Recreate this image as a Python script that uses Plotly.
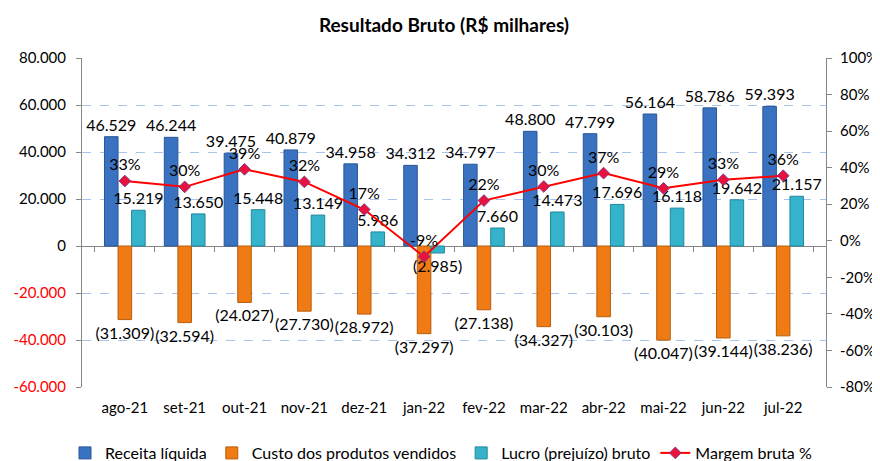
import plotly.graph_objects as go

categories = ["ago-21", "set-21", "out-21", "nov-21", "dez-21", "jan-22",
              "fev-22", "mar-22", "abr-22", "mai-22", "jun-22", "jul-22"]
receita = [46529, 46244, 39475, 40879, 34958, 34312, 34797, 48800, 47799, 56164, 58786, 59393]
custo = [-31309, -32594, -24027, -27730, -28972, -37297, -27138, -34327, -30103, -40047, -39144, -38236]
lucro = [15219, 13650, 15448, 13149, 5986, -2985, 7660, 14473, 17696, 16118, 19642, 21157]
margem = [32.7, 29.5, 39.1, 32.2, 17.1, -8.7, 22.0, 29.7, 37.0, 28.7, 33.4, 35.6]

left_ticks = [-60000, -40000, -20000, 0, 20000, 40000, 60000, 80000]
right_ticks = [-80, -60, -40, -20, 0, 20, 40, 60, 80, 100]
left_range = [-60000, 80000]
right_range = [-80, 100]

FONT = "Lato, Carlito, Calibri, sans-serif"

# the page body adds an 8px margin, so the figure is 8px smaller on each side
W, H = 872, 453
ML, MT = 74, 50
PLOT_W, PLOT_H = 744, 329


def fmt_num(v):
    s = f"{abs(v):,}".replace(",", ".")
    return f"({s})" if v < 0 else s


def fmt_tick(v):
    s = f"{v:,}".replace(",", ".")
    return f"<span style='color:#FF0000'>{s}</span>" if v < 0 else s


fig = go.Figure()
fig.add_trace(go.Bar(
    x=categories, y=receita, name="Receita líquida",
    marker=dict(color="#3A72C2", line=dict(color="#2A5698", width=1)),
    text=[fmt_num(v) for v in receita], textposition="outside",
    textfont=dict(size=16, color="#000000", family=FONT),
    cliponaxis=False, constraintext="none",
))
fig.add_trace(go.Bar(
    x=categories, y=custo, name="Custo dos produtos vendidos",
    marker=dict(color="#F07A14", line=dict(color="#B85E0C", width=1)),
    text=[fmt_num(v) for v in custo], textposition="outside",
    textfont=dict(size=16, color="#000000", family=FONT),
    cliponaxis=False, constraintext="none",
))
fig.add_trace(go.Bar(
    x=categories, y=lucro, name="Lucro (prejuízo) bruto",
    marker=dict(color="#35B3CB", line=dict(color="#22889C", width=1)),
    text=[fmt_num(v) for v in lucro], textposition="outside",
    textfont=dict(size=16, color="#000000", family=FONT),
    cliponaxis=False, constraintext="none",
))
fig.add_trace(go.Scatter(
    x=categories, y=margem, name="Margem bruta %", xaxis="x2", yaxis="y2",
    mode="lines+markers+text",
    line=dict(color="#FF0000", width=2),
    marker=dict(symbol="diamond", size=9, color="#E8123C",
                line=dict(color="#7E3A8F", width=1)),
    text=[f"{round(v):d}%" for v in margem], textposition="top center",
    textfont=dict(size=16, color="#000000", family=FONT),
    cliponaxis=False,
))

zero_pos = (0 - left_range[0]) / (left_range[1] - left_range[0])

fig.update_layout(
    width=W, height=H,
    paper_bgcolor="white", plot_bgcolor="white",
    margin=dict(l=ML, r=W - ML - PLOT_W, t=MT, b=H - MT - PLOT_H, autoexpand=False),
    font=dict(family=FONT, size=15, color="#000000"),
    title=dict(text="<b>Resultado Bruto (R$ milhares)</b>", x=0.5, xanchor="center",
               y=1 - 17 / H, yanchor="middle", font=dict(size=19, family=FONT)),
    barmode="group", bargap=0.32, bargroupgap=0.0,
    showlegend=True,
    legend=dict(orientation="h", x=(57 - ML) / PLOT_W, xanchor="left",
                y=-(445 - (MT + PLOT_H)) / PLOT_H, yanchor="middle",
                font=dict(size=16, family=FONT), traceorder="normal",
                itemwidth=30, bgcolor="rgba(0,0,0,0)"),
    xaxis=dict(showline=False, ticks="", showgrid=False, tickfont=dict(size=15),
               ticklabelstandoff=10, automargin=False),
    xaxis2=dict(overlaying="x", matches="x", anchor="free", position=zero_pos,
                showline=False, showgrid=False, showticklabels=False,
                ticks="outside", tickson="boundaries", ticklen=5,
                tickcolor="#868686", automargin=False),
    yaxis=dict(range=left_range, tickvals=left_ticks,
               ticktext=[fmt_tick(v) for v in left_ticks],
               showgrid=True, gridcolor="#A9C4EB", griddash="dash", gridwidth=1,
               zeroline=True, zerolinecolor="#868686", zerolinewidth=1,
               showline=True, linecolor="#868686", linewidth=1,
               ticks="outside", ticklen=5, tickcolor="#868686",
               ticklabelstandoff=7, tickfont=dict(size=15), automargin=False),
    yaxis2=dict(range=right_range, tickvals=right_ticks,
                ticktext=[f"{v}%" for v in right_ticks],
                overlaying="y", side="right", showgrid=False, zeroline=False,
                showline=True, linecolor="#868686", linewidth=1,
                ticks="outside", ticklen=5, tickcolor="#868686",
                ticklabelstandoff=5, tickfont=dict(size=15), automargin=False),
)

fig.write_html("out.html")
